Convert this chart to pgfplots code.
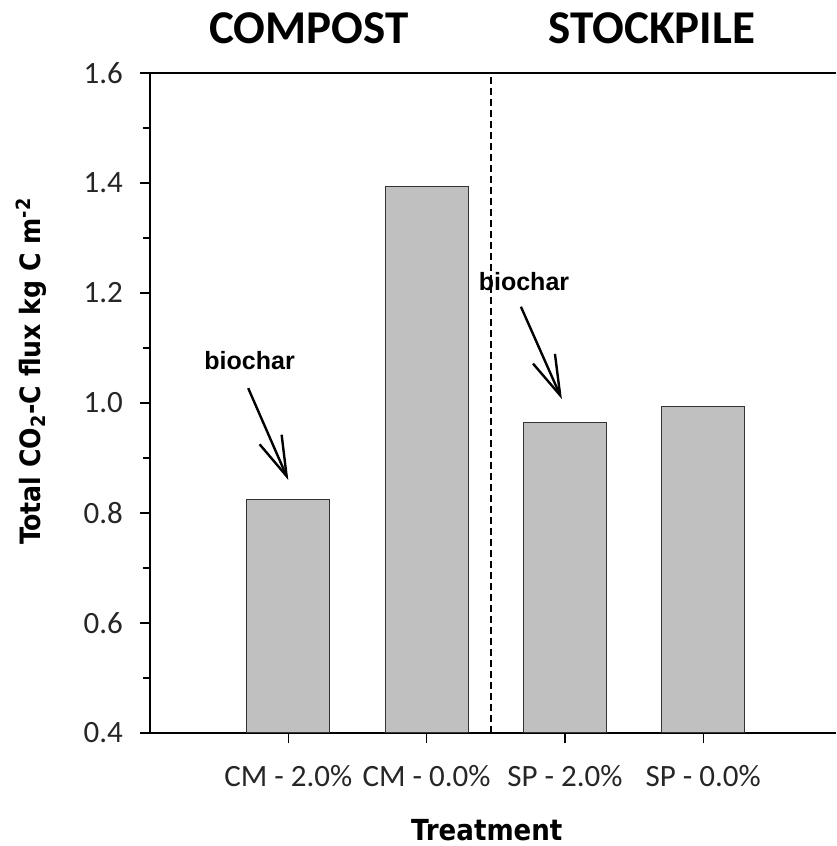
\documentclass[border=0pt]{standalone}
\usepackage{pgfplots}
\pgfplotsset{compat=1.18}
\usetikzlibrary{arrows.meta}
\usepackage{fontspec}
\setmainfont{Carlito}
\newfontfamily\tah{DejaVu Sans Condensed}
\newfontfamily\ari{Liberation Sans}
\definecolor{barfill}{RGB}{192,192,192}
\begin{document}
\begin{tikzpicture}
\begin{axis}[
  name=ax,
  scale only axis, width=343pt, height=330pt,
  xmin=-1, xmax=3.96, ymin=0.4, ymax=1.6,
  axis x line*=box, axis y line*=left,
  axis line style={line width=0.75pt, black},
  xtick={0,1,2,3},
  xticklabels={CM - 2.0\%, CM - 0.0\%, SP - 2.0\%, SP - 0.0\%},
  ytick={0.4,0.6,0.8,1.0,1.2,1.4,1.6},
  minor ytick={0.5,0.7,0.9,1.1,1.3,1.5},
  yticklabel style={/pgf/number format/fixed, /pgf/number format/fixed zerofill, /pgf/number format/precision=1, xshift=-5pt},
  xticklabel style={yshift=-7.5pt},
  /pgf/number format/assume math mode=true,
  tick align=outside,
  major tick length=5pt, minor tick length=3.5pt,
  tick style={line width=0.6pt, black},
  xtick pos=left, ytick pos=left,
  ticklabel style={font=\fontsize{15.5}{18}\selectfont, color=black!85},
  clip mode=individual,
]
\addplot[ybar, bar width=0.6, bar shift=0pt, fill=barfill, draw=black!80, line width=0.6pt]
  coordinates {(0,0.825) (1,1.393) (2,0.965) (3,0.993)};
\addplot[black, line width=0.75pt, dash pattern=on 3.5pt off 2pt]
  coordinates {(1.466,0.4) (1.466,1.6)};
\draw[line width=1.2pt, -{Straight Barb[length=20pt, width=12pt, line width=1.2pt]}]
  (axis cs:-0.29,1.027) -- (axis cs:0.0,0.86);
\draw[line width=1.2pt, -{Straight Barb[length=20pt, width=12pt, line width=1.2pt]}]
  (axis cs:1.682,1.175) -- (axis cs:1.978,1.007);
\node[font=\ari\bfseries\fontsize{12.5}{15}\selectfont] at (axis cs:-0.28,1.078) {biochar};
\node[font=\ari\bfseries\fontsize{12.5}{15}\selectfont] at (axis cs:1.704,1.22) {biochar};
\node[font=\bfseries\fontsize{23.5}{28}\selectfont] at ([yshift=22.5pt]axis cs:0.15,1.6) {COMPOST};
\node[font=\bfseries\fontsize{23.5}{28}\selectfont] at ([yshift=22.5pt]axis cs:2.63,1.6) {STOCKPILE};
\node[rotate=90, font=\tah\bfseries\fontsize{14}{17}\selectfont] at ([xshift=-59.5pt]rel axis cs:0,0.548) {Total CO\textsubscript{2}-C flux kg C m\textsuperscript{-2}};
\node[inner sep=0pt, font=\tah\bfseries\fontsize{14.5}{17}\selectfont] at ([yshift=-48.5pt]rel axis cs:0.491,0) {Treatment};
\end{axis}
\pgfresetboundingbox
\path ([xshift=-75pt,yshift=-56.5pt]ax.south west) rectangle ++(418pt,423pt);
\end{tikzpicture}
\end{document}
